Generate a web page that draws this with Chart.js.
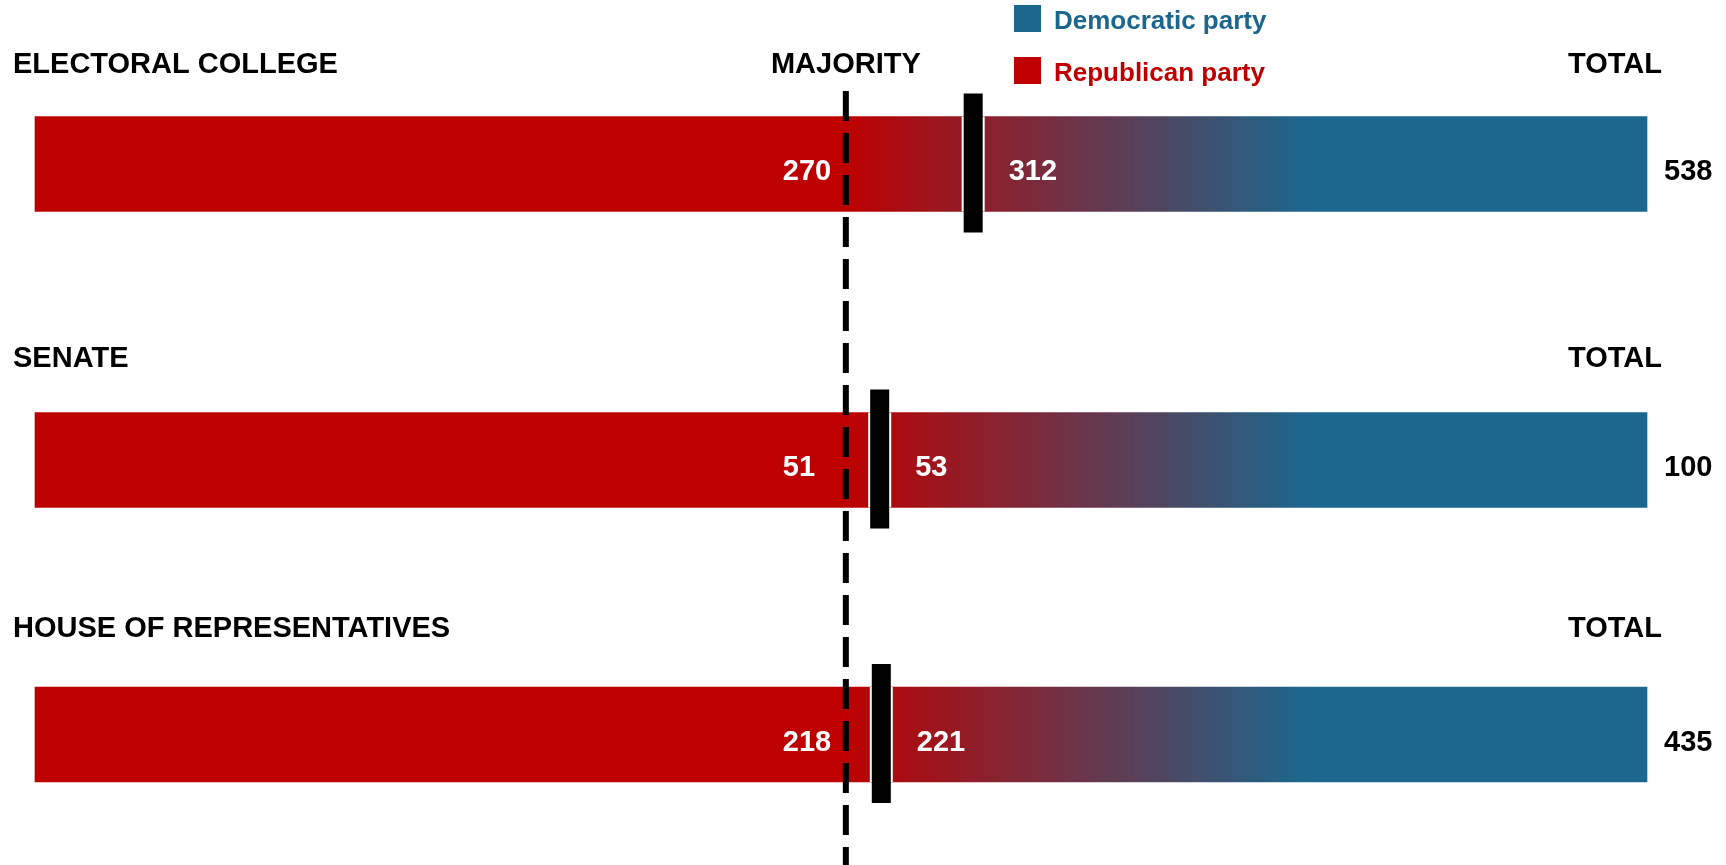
<!DOCTYPE html>
<html><head><meta charset="utf-8">
<script src="https://cdn.jsdelivr.net/npm/chart.js@4/dist/chart.umd.min.js"></script>
<style>
html,body{margin:0;padding:0;background:#fff;overflow:hidden;width:1726px;height:865px}
#wrap{position:relative;width:1726px;height:865px}
canvas{display:block;position:absolute;left:0}
</style>
</head><body>
<div id="wrap">
<canvas id="c0" width="1726" height="300" style="top:0px"></canvas>
<canvas id="c1" width="1726" height="300" style="top:300px"></canvas>
<canvas id="c2" width="1726" height="265" style="top:600px"></canvas>
</div>
<script>
// ---- data ----
const chambers = ['ELECTORAL COLLEGE', 'SENATE', 'HOUSE OF REPRESENTATIVES'];
const totalSeats = [538, 100, 435];
const majoritySeats = [270, 51, 218];
const winnerSeats = [312, 53, 221];
const barSharePct = [100, 100, 100];          // each bar = whole chamber (% of seats)
const markerSharePct = [58.2, 52.4, 52.5];     // marker position on each bar, % of seats (as drawn)
const majorityLinePct = 50.3;                  // dashed majority line, % of seats (as drawn)
const legendLabels = ['Democratic party', 'Republican party'];
const legendColors = ['#1B668D', '#C00000'];
const totalHeader = 'TOTAL';
const majorityHeader = 'MAJORITY';

// ---- styles / layout ----
const FONT = '"Liberation Sans", Arial, Helvetica, sans-serif';
const RED = '#BF0000', BLUE = '#1B678E';
const GRAD_FROM = 50.0, GRAD_TO = 79.0;
const panels = [
  { id: 'c0', top: 0,   padTop: 117, padBottom: 89, headGap: 44 },
  { id: 'c1', top: 300, padTop: 113, padBottom: 93, headGap: 46 },
  { id: 'c2', top: 600, padTop: 87,  padBottom: 83, headGap: 50 }
];

function makeOverlay(i, p) {
  return {
    id: 'overlay' + i,
    afterDatasetsDraw(chart) {
      const { ctx, scales: { x } } = chart;
      const bar = chart.getDatasetMeta(0).data[0];
      const lineX = x.getPixelForValue(majorityLinePct);
      ctx.save();
      // dashed majority line (phase continuous across panels)
      ctx.strokeStyle = '#000';
      ctx.lineWidth = 6;
      ctx.setLineDash([30, 12]);
      ctx.beginPath();
      ctx.moveTo(lineX, 91 - p.top);
      ctx.lineTo(lineX, chart.height + 2);
      ctx.stroke();
      ctx.setLineDash([]);

      const h = bar.height;
      const top = bar.y - h / 2;
      const mx = x.getPixelForValue(markerSharePct[i]);
      const mw = 19, mh = 139;
      ctx.fillStyle = '#fff';
      ctx.fillRect(mx - mw / 2 - 2, top, mw + 4, h);
      ctx.fillStyle = '#000';
      ctx.fillRect(mx - mw / 2, bar.y - mh / 2 - 1, mw, mh);

      ctx.font = 'bold 29px ' + FONT;
      ctx.textBaseline = 'alphabetic';
      ctx.textAlign = 'left';
      ctx.fillStyle = '#fff';
      ctx.fillText(String(majoritySeats[i]), lineX - 63, bar.y + 16);
      ctx.fillText(String(winnerSeats[i]), mx + mw / 2 + 26, bar.y + 16);
      ctx.fillStyle = '#000';
      ctx.fillText(String(totalSeats[i]), bar.x + 17, bar.y + 16);
      ctx.fillText(chambers[i], 13, top - p.headGap);
      ctx.textAlign = 'right';
      ctx.fillText(totalHeader, bar.x + 15, top - p.headGap);
      if (i === 0) {
        ctx.textAlign = 'center';
        ctx.fillText(majorityHeader, lineX, top - p.headGap);
        // legend
        ctx.font = 'bold 26px ' + FONT;
        ctx.textAlign = 'left';
        legendLabels.forEach((lab, k) => {
          const y = 5 + k * 52;
          ctx.fillStyle = legendColors[k];
          ctx.fillRect(1014, y, 27, 27);
          ctx.fillText(lab, 1054, y + 24);
        });
      }
      ctx.restore();
    }
  };
}

panels.forEach((p, i) => {
  new Chart(document.getElementById(p.id), {
    type: 'bar',
    data: {
      labels: [chambers[i]],
      datasets: [{
        label: chambers[i],
        data: [barSharePct[i]],
        barThickness: 95,
        borderWidth: 0,
        clip: false,
        backgroundColor: (c) => {
          const { chart } = c;
          const { ctx, chartArea, scales } = chart;
          if (!chartArea) return RED;
          const x0 = scales.x.getPixelForValue(GRAD_FROM);
          const x1 = scales.x.getPixelForValue(GRAD_TO);
          const g = ctx.createLinearGradient(x0, 0, x1, 0);
          g.addColorStop(0, RED);
          g.addColorStop(1, BLUE);
          return g;
        }
      }]
    },
    options: {
      indexAxis: 'y',
      responsive: false,
      animation: false,
      layout: { padding: { left: 35, right: 79, top: p.padTop, bottom: p.padBottom } },
      plugins: { legend: { display: false }, tooltip: { enabled: false } },
      scales: {
        x: { type: 'linear', min: 0, max: 100, display: false },
        y: { type: 'category', display: false, offset: true }
      }
    },
    plugins: [makeOverlay(i, p)]
  });
});
</script>
</body></html>
